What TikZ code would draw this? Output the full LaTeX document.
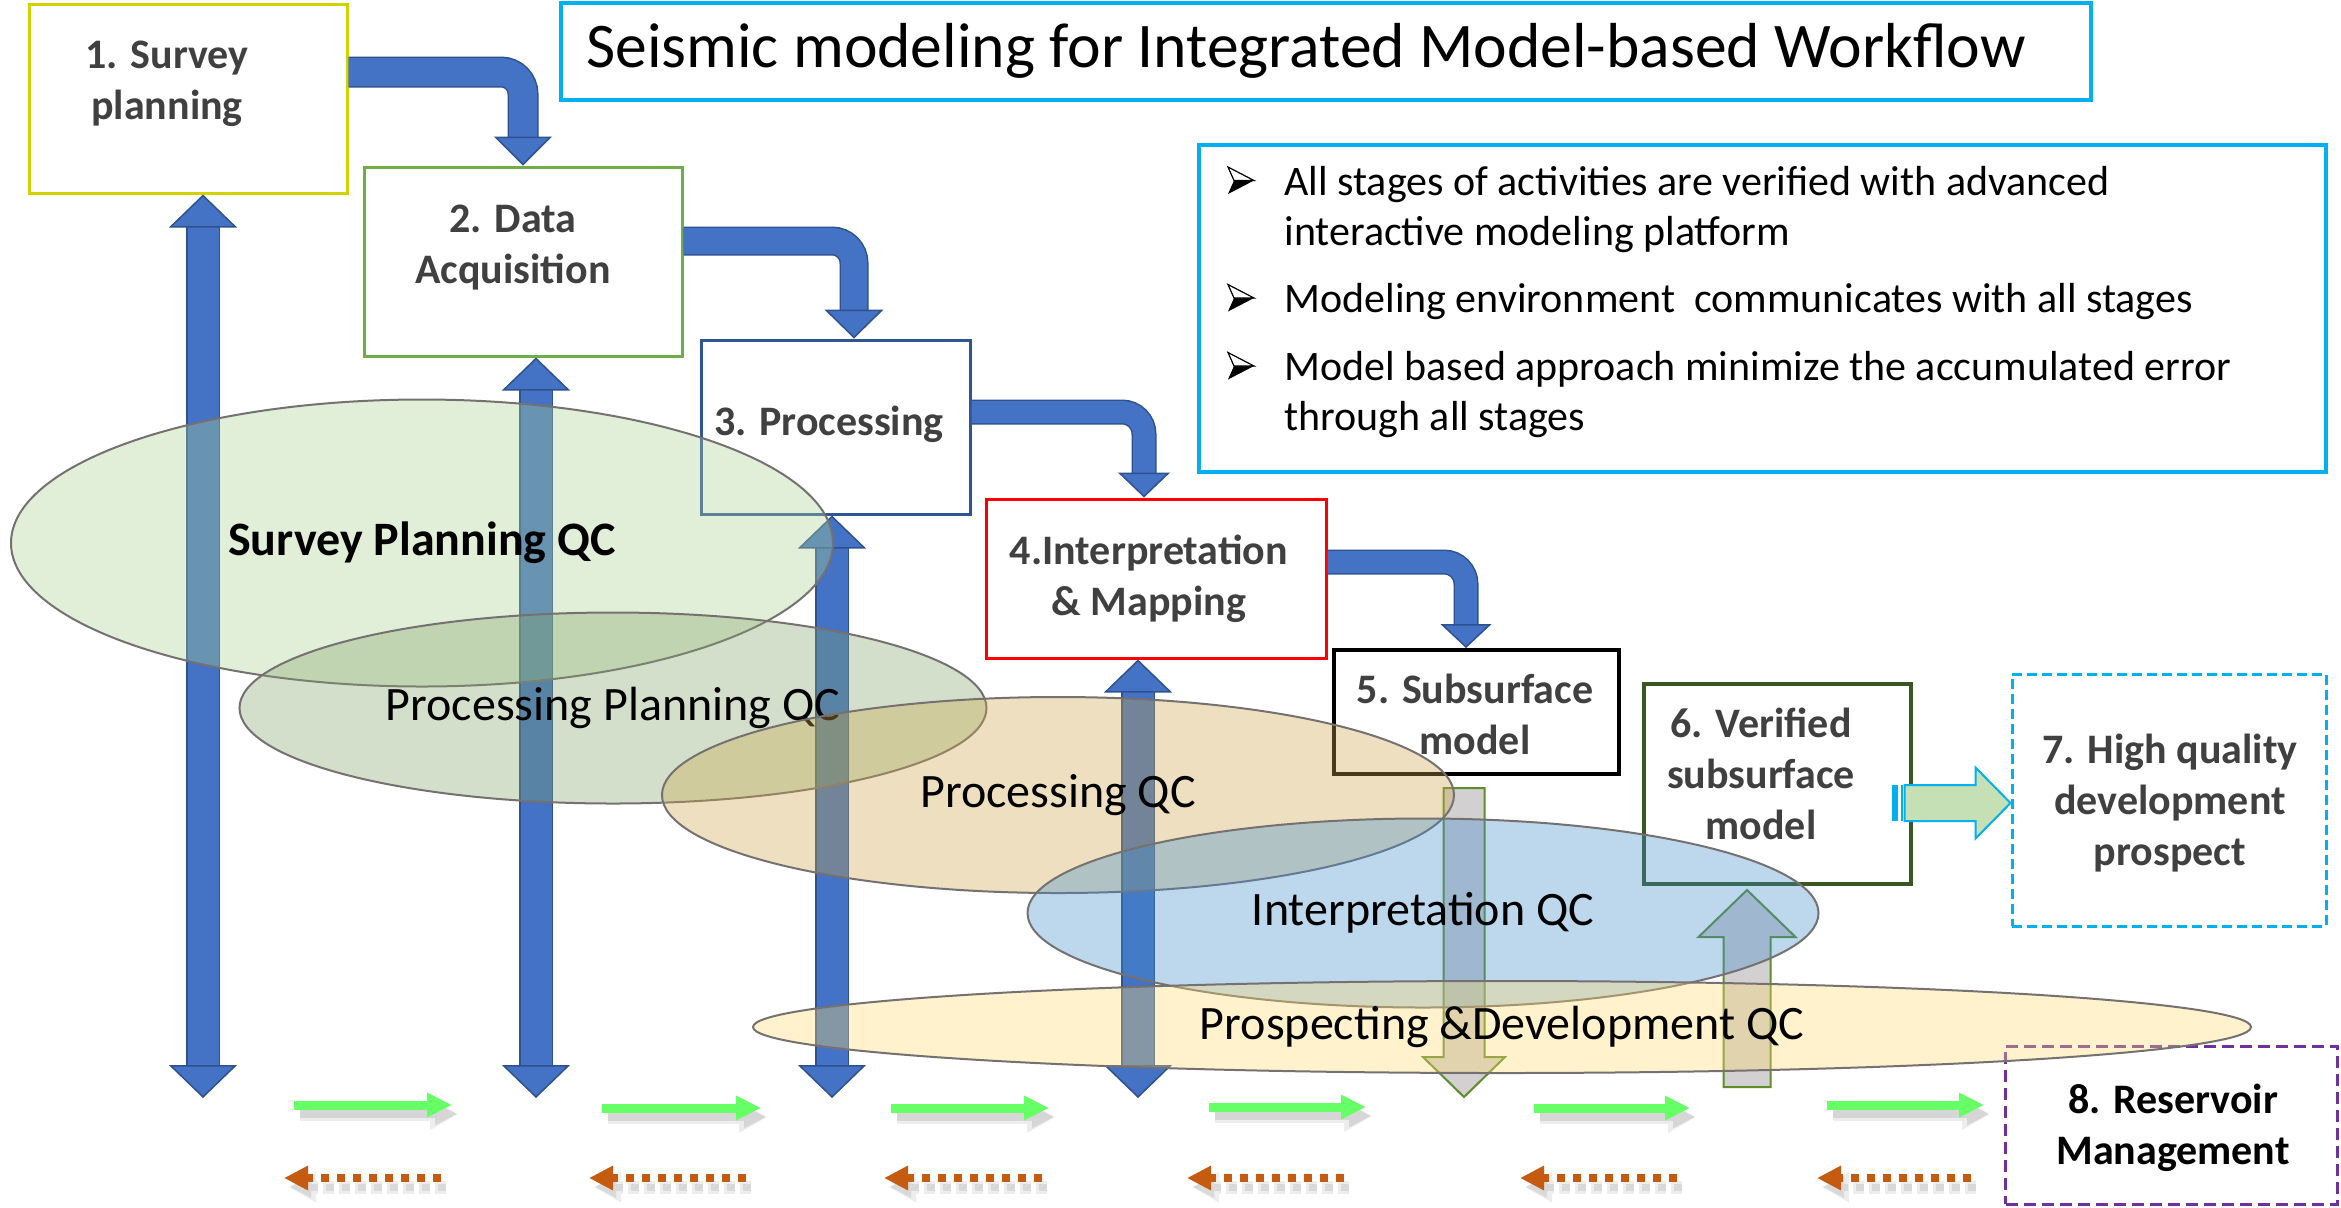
\documentclass[tikz,border=0pt]{standalone}
\usepackage{fontspec}
\setmainfont{Carlito}
\usetikzlibrary{arrows.meta,shapes.geometric}
\definecolor{mblue}{RGB}{68,114,196}
\definecolor{dkblue}{RGB}{47,82,143}
\definecolor{tgray}{RGB}{64,64,64}
\definecolor{bxa}{RGB}{210,210,0}
\definecolor{bxb}{RGB}{112,173,71}
\definecolor{bxc}{RGB}{47,85,151}
\definecolor{bxf}{RGB}{56,87,35}
\definecolor{cyanb}{RGB}{0,176,240}
\definecolor{purp}{RGB}{112,48,160}
\definecolor{egray}{RGB}{118,113,113}
\definecolor{eSurvey}{RGB}{172,212,146}
\definecolor{ePlan}{RGB}{129,164,106}
\definecolor{eProc}{RGB}{204,166,72}
\definecolor{eInt}{RGB}{66,141,206}
\definecolor{eProsp}{RGB}{255,218,109}
\definecolor{olfill}{RGB}{210,208,208}
\definecolor{oldraw}{RGB}{95,140,45}
\definecolor{lgreen}{RGB}{197,224,180}
\definecolor{ggreen}{RGB}{102,255,102}
\definecolor{orng}{RGB}{197,90,17}
\tikzset{vtip/.tip={Triangle[width=34pt,length=16.5pt,color=dkblue,fill=mblue,line width=0.75pt]}}
\begin{document}
\begin{tikzpicture}[x=0.5pt,y=-0.5pt,
  box/.style={draw, fill=white, inner sep=0pt, line width=1.5pt},
  btext/.style={font=\bfseries\fontsize{21pt}{25.5pt}\selectfont, text=tgray, align=center, inner sep=0pt},
  btxt/.style={font=\fontsize{21pt}{25pt}\selectfont, inner sep=0pt, anchor=base west},
  qc/.style={ellipse, draw=egray, line width=1pt, fill opacity=0.35, draw opacity=1, text opacity=1, inner sep=0pt, font=\fontsize{24pt}{28pt}\selectfont},
  bent/.style n args={5}{draw=mblue, line width=#1, rounded corners=11pt, arrows={-Triangle[width=#3,length=#4,color=dkblue,fill=mblue,line width=0.75pt]}, preaction={draw=dkblue, line width=#2, arrows=-, shorten >=#5}},
  vblue/.style={draw=mblue, line width=15.5pt, arrows={vtip-vtip}, preaction={draw=dkblue, line width=17pt, arrows=-, shorten <=15pt, shorten >=15pt}},
  blk/.style={fill=olfill, draw=oldraw, line width=1pt, line join=miter},
  garr/.style={draw=ggreen, line width=4.5pt, arrows={-Triangle[width=11.5pt,length=12.5pt]}},
  gshadA/.style={draw=black!7, line width=7pt, arrows={-Triangle[width=15pt,length=14pt]}},
  gshadB/.style={draw=black!16, line width=4pt, arrows={-Triangle[width=10.5pt,length=11pt]}},
  oarr/.style={draw=orng, line width=4pt, dash pattern=on 4.2pt off 3.8pt, arrows={-Triangle[width=11.5pt,length=12pt]}},
  oshadA/.style={draw=black!7, line width=6.5pt, dash pattern=on 5.5pt off 2.5pt, arrows={-Triangle[width=14.5pt,length=13.5pt]}},
  oshadB/.style={draw=black!15, line width=3.5pt, dash pattern=on 4.2pt off 3.8pt, arrows={-Triangle[width=10pt,length=10.5pt]}},
  bul/.pic={\fill[black] (6,0) -- (26,0) -- (0,13.5) -- cycle;
            \filldraw[fill=white, draw=black, line width=0.6pt, line join=miter] (0,-13.5) -- (26,0) -- (6,0) -- cycle;}
]
\fill[white] (0,0) rectangle (2341,1207);
\useasboundingbox (0,0) rectangle (2341,1207);

% ---------- boxes ----------
\node[box, draw=bxa, minimum width=159pt, minimum height=94.5pt] (B1) at (188,98.5) {};
\node[box, draw=bxb, minimum width=159pt, minimum height=94.5pt] (B2) at (523,261.5) {};
\node[box, draw=bxc, minimum width=134.5pt, minimum height=87pt] (B3) at (835.5,427) {};
\node[box, draw=red, minimum width=170pt, minimum height=79.5pt] (B4) at (1156,578.5) {};
\node[box, draw=black, line width=2pt, minimum width=142.5pt, minimum height=62pt] (B5) at (1476.5,712) {};
\node[box, draw=bxf, line width=2pt, minimum width=133.5pt, minimum height=100pt] (B6) at (1777.5,784) {};
\node[box, draw=cyanb, dash pattern=on 5pt off 2.5pt, minimum width=157pt, minimum height=126pt] (B7) at (2169,800) {};
\node[box, draw=purp, dash pattern=on 6pt off 3pt, minimum width=166pt, minimum height=79pt] (B8) at (2171.5,1125) {};
\node[box, draw=cyanb, line width=2pt, minimum width=765pt, minimum height=48.5pt] (TB) at (1326,51.5) {};
\node[box, draw=cyanb, line width=1.75pt, minimum width=563.5pt, minimum height=163.5pt] (BB) at (1762.5,308.5) {};

% ---------- bent flow arrows ----------
\draw[bent={14pt}{15.5pt}{29pt}{14.5pt}{13pt}] (B1.east |- 0,72) -| (B2.north);
\draw[bent={13pt}{14.5pt}{29.5pt}{14.5pt}{13pt}] (B2.east |- 0,241) -| (B3.north -| 854,0);
\draw[bent={11pt}{12.5pt}{26pt}{12.5pt}{11pt}] (B3.east |- 0,412) -| (B4.north -| 1144,0);
\draw[bent={11pt}{12.5pt}{25.5pt}{12pt}{10.5pt}] (B4.east |- 0,562) -| (B5.north -| 1466,0);

% ---------- vertical two-way arrows ----------
\coordinate (V1) at (203,1098);
\coordinate (V2) at (536,1098);
\coordinate (V3) at (832,1098);
\coordinate (V4) at (1138,1098);
\draw[vblue] (V1 |- B1.south) -- (V1);
\draw[vblue] (V2 |- B2.south) -- (V2);
\draw[vblue] (V3 |- B3.south) -- (V3);
\draw[vblue] (V4 |- B4.south) -- (V4);

% ---------- block arrows ----------
\coordinate (dtip) at (1464,1097);
\coordinate (utip) at (1747,890);
\draw[blk, shift={(dtip)}] (-20.5,-309) -- (20.5,-309) -- (20.5,-40) -- (41,-40) -- (0,0) -- (-41,-40) -- (-20.5,-40) -- cycle;
\draw[blk, shift={(utip)}] (-23.5,197) -- (23.5,197) -- (23.5,47) -- (48.5,47) -- (0,0) -- (-48.5,47) -- (-23.5,47) -- cycle;
\begin{scope}[shift={(B7.west)}]
  \fill[cyanb] (-119,-15) rectangle (-113,21);
  \fill[cyanb] (-110,-15) rectangle (-108,21);
  \draw[fill=lgreen, draw=cyanb, line width=1pt, line join=miter] (-106,-15) -- (-35,-15) -- (-35,-32.5) -- (0,3) -- (-35,38.5) -- (-35,21) -- (-106,21) -- cycle;
\end{scope}

% ---------- QC ellipses ----------
\node[qc, fill=eSurvey, minimum width=411pt, minimum height=143.5pt, font=\bfseries\fontsize{24pt}{28pt}\selectfont] (E1) at (422,543) {Survey Planning QC};
\node[qc, fill=ePlan, minimum width=373.5pt, minimum height=95.5pt] (E2) at (613,708) {Processing Planning QC};
\node[qc, fill=eProc, minimum width=396pt, minimum height=98pt] (E3) at (1058,795) {Processing QC};
\node[qc, fill=eInt, minimum width=395.5pt, minimum height=94.5pt] (E4) at (1423,913) {Interpretation QC};
\node[qc, fill=eProsp, minimum width=749pt, minimum height=46pt] (E5) at (1502,1027) {Prospecting \&Development QC};

% ---------- box texts ----------
\node[btext] (T1) at (167,84) {1. Survey\\planning};
\node[btext] (T2) at (513,248) {2. Data\\Acquisition};
\node[btext] (T3) at (829,424) {3. Processing};
\node[btext] (T4) at (1149,579) {4.Interpretation\\\& Mapping};
\node[btext] (T5) at (1475,714) {5. Subsurface\\model};
\node[btext] (T6) at (1761,774) {6. Verified\\subsurface\\model};
\node[btext] (T7) at (2170,803) {7. High quality\\development\\prospect};
\node[btext, text=black] (T8) at (2173,1128) {8. Reservoir\\Management};

% ---------- title and notes ----------
\node[font=\fontsize{31.8pt}{38pt}\selectfont, inner sep=0pt, anchor=base] (TT) at (1306,67) {Seismic modeling for Integrated Model-based Workflow};
\pic at (1228,180.5) {bul};
\pic at (1228,298) {bul};
\pic at (1228,366) {bul};
\node[btxt] (L1) at (1284,195) {All stages of activities are verified with advanced};
\node[btxt] (L2) at (1284,245) {interactive modeling platform};
\node[btxt] (L3) at (1284,312) {Modeling environment~ communicates with all stages};
\node[btxt] (L4) at (1284,380) {Model based approach minimize the accumulated error};
\node[btxt] (L5) at (1284,430) {through all stages};

% ---------- forward / backward arrows ----------
\foreach \a/\b/\yy in {294/452/1105,602/761/1108,891/1049/1108,1209/1366/1107,1534/1690/1108,1827/1984/1105}{
  \draw[gshadA] (\a+6,\yy+9) -- (\b+6,\yy+9);
  \draw[gshadB] (\a+6,\yy+9) -- (\b+5,\yy+9);
  \draw[garr] (\a,\yy) -- (\b,\yy);
}
\foreach \t/\s in {284/441,589/746,884/1042,1187/1344,1520/1677,1817/1971}{
  \draw[oshadA] (\s+5,1187) -- (\t+5,1187);
  \draw[oshadB] (\s+5,1187) -- (\t+6,1187);
  \draw[oarr] (\s,1178) -- (\t,1178);
}
\end{tikzpicture}
\end{document}
